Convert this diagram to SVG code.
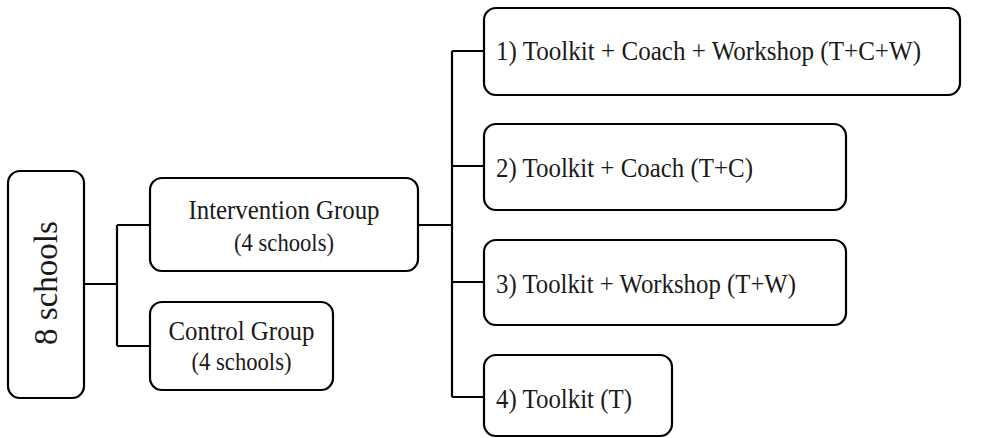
<svg xmlns="http://www.w3.org/2000/svg" width="990" height="438" viewBox="0 0 990 438">
<style>
.box{fill:#fff;stroke:#000;stroke-width:2.2}
.t{font-family:"Liberation Serif","Times New Roman",serif;fill:#1a1a1a}
.m{font-size:28px}
.s{font-size:25px}
.c{text-anchor:middle}
.conn{fill:none;stroke:#000;stroke-width:2.2}
</style>
<rect width="990" height="438" fill="#fff"/>
<g id="connectors">
<path class="conn" d="M84 284H117M117 225V346M117 225H150M117 346H150"/>
<path class="conn" d="M418 225H452M452 51V397M452 51H484M452 166H484M452 282H484M452 397H484"/>
</g>
<g id="n-schools">
<rect class="box" x="8" y="171" width="76" height="227" rx="12"/>
<text class="t c" font-size="33" transform="translate(57,283) rotate(-90)">8 schools</text>
</g>
<g id="n-intervention">
<rect class="box" x="150" y="178" width="268" height="93" rx="12"/>
<text class="t m c" x="284" y="219" textLength="191" lengthAdjust="spacingAndGlyphs">Intervention Group</text>
<text class="t s c" x="284" y="251" textLength="100" lengthAdjust="spacingAndGlyphs">(4 schools)</text>
</g>
<g id="n-control">
<rect class="box" x="150" y="302" width="183" height="88" rx="12"/>
<text class="t m c" x="241.5" y="340" textLength="146" lengthAdjust="spacingAndGlyphs">Control Group</text>
<text class="t s c" x="241.5" y="370" textLength="100" lengthAdjust="spacingAndGlyphs">(4 schools)</text>
</g>
<g id="n-tcw">
<rect class="box" x="484" y="8" width="476" height="87" rx="12"/>
<text class="t m" x="496" y="60" textLength="425" lengthAdjust="spacingAndGlyphs">1) Toolkit + Coach + Workshop (T+C+W)</text>
</g>
<g id="n-tc">
<rect class="box" x="484" y="124" width="362" height="86" rx="12"/>
<text class="t m" x="496" y="177" textLength="257" lengthAdjust="spacingAndGlyphs">2) Toolkit + Coach (T+C)</text>
</g>
<g id="n-tw">
<rect class="box" x="484" y="240" width="362" height="85" rx="12"/>
<text class="t m" x="496" y="293" textLength="300" lengthAdjust="spacingAndGlyphs">3) Toolkit + Workshop (T+W)</text>
</g>
<g id="n-t">
<rect class="box" x="484" y="355" width="188" height="81" rx="12"/>
<text class="t m" x="496" y="408" textLength="136" lengthAdjust="spacingAndGlyphs">4) Toolkit (T)</text>
</g>
</svg>
